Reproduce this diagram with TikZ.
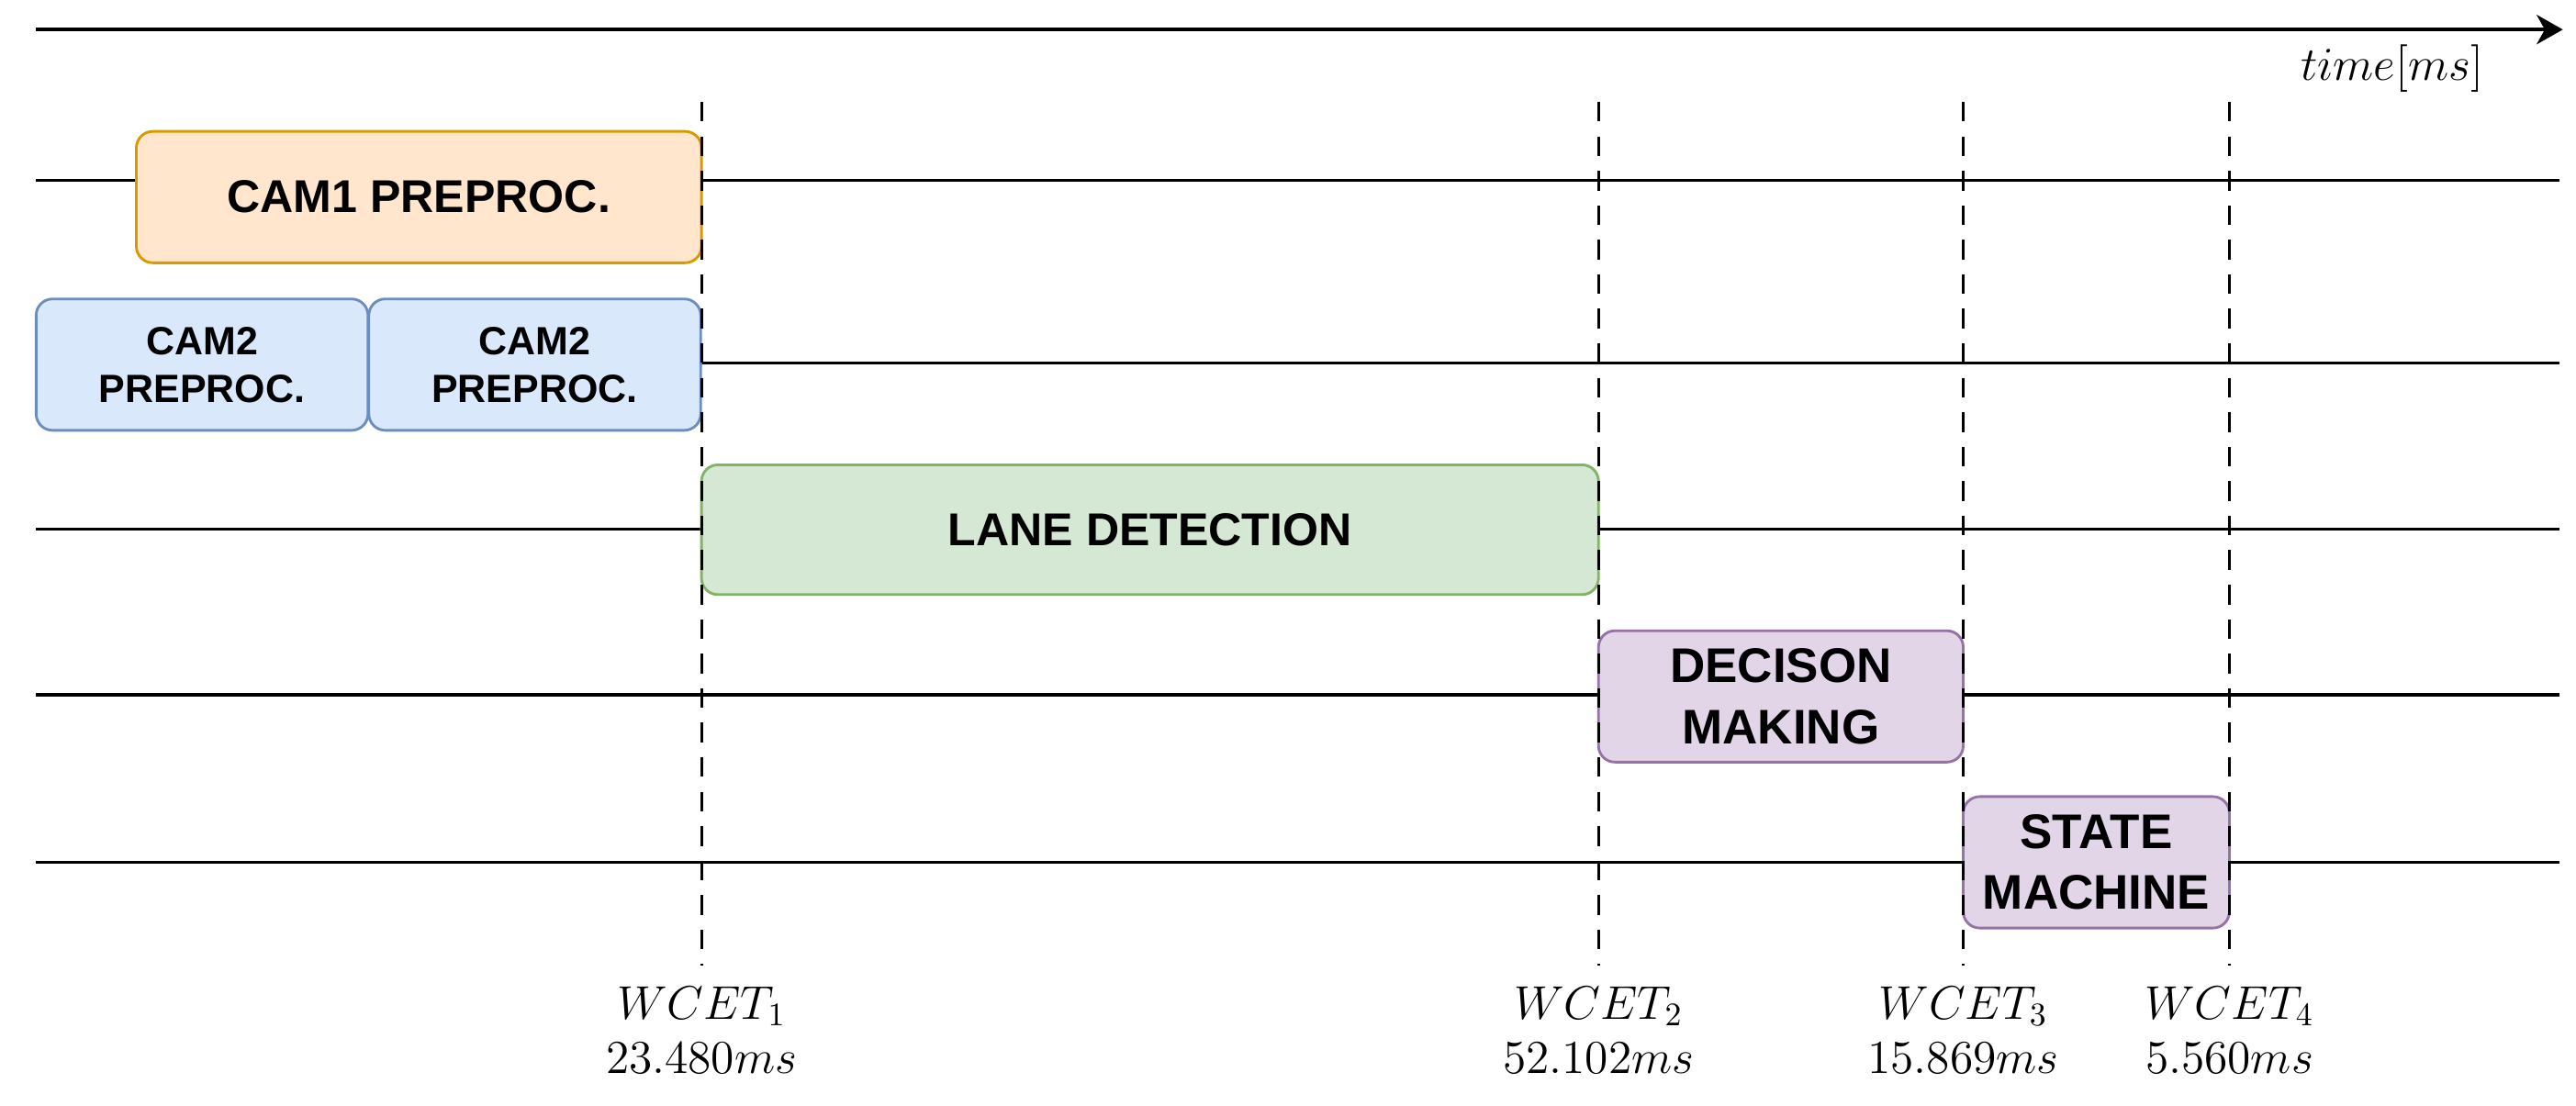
\documentclass[tikz,border=0pt]{standalone}
\usepackage{fontspec}
\newfontfamily\boxfont{Liberation Sans}
\usetikzlibrary{arrows.meta}
\definecolor{orfill}{HTML}{FFE6CC}\definecolor{ordraw}{HTML}{D79B00}
\definecolor{blfill}{HTML}{DAE8FC}\definecolor{bldraw}{HTML}{6C8EBF}
\definecolor{grfill}{HTML}{D5E8D4}\definecolor{grdraw}{HTML}{82B366}
\definecolor{pufill}{HTML}{E1D5E7}\definecolor{pudraw}{HTML}{9673A6}
\begin{document}
\begin{tikzpicture}[x=0.5pt,y=-0.5pt,
  task/.style={draw, line width=0.8pt, rounded corners=5pt, align=center,
    inner sep=0pt, font=\boxfont\bfseries\fontsize{14}{17.5}\selectfont},
  smalltask/.style={task, font=\boxfont\bfseries\fontsize{12}{14.5}\selectfont},
  bigtask/.style={task, font=\boxfont\bfseries\fontsize{14.8}{18.5}\selectfont},
  rowline/.style={line width=0.9pt},
  wcetline/.style={line width=0.8pt, dash pattern=on 6pt off 4.5pt},
  wcetlabel/.style={align=center, inner sep=0pt, font=\fontsize{14}{16.5}\selectfont}]
\useasboundingbox (0,0) rectangle (1568,673);
% time axis
\coordinate (a0) at (22,18); \coordinate (a1) at (1560,18);
\draw[line width=1pt, -{Stealth[length=8pt,width=9pt,inset=2.5pt]}] (a0) -- (a1);
\node[anchor=base east, inner sep=0pt, font=\fontsize{14}{17}\selectfont] (tl) at (1512,49) {$time[ms]$};
% row lines
\foreach \n/\y in {r1/110, r2/221, r3/322, r4/423, r5/525}{
  \coordinate (\n l) at (22,\y); \coordinate (\n r) at (1558,\y);
  \draw[rowline] (\n l) -- (\n r);
}
% tasks
\node[task, fill=orfill, draw=ordraw, minimum width=172pt, minimum height=40pt] (cam1) at (255,120) {CAM1 PREPROC.};
\node[smalltask, fill=blfill, draw=bldraw, minimum width=101pt, minimum height=40pt] (cam2a) at (123,222) {CAM2\\PREPROC.};
\node[smalltask, fill=blfill, draw=bldraw, minimum width=101pt, minimum height=40pt] (cam2b) at (325.5,222) {CAM2\\PREPROC.};
\node[task, fill=grfill, draw=grdraw, minimum width=273pt, minimum height=39.5pt] (lane) at (700,322.5) {LANE DETECTION};
\node[bigtask, fill=pufill, draw=pudraw, minimum width=111pt, minimum height=40pt] (dec) at (1084,424) {DECISON\\MAKING};
\node[bigtask, fill=pufill, draw=pudraw, minimum width=81pt, minimum height=40pt] (sm) at (1276,525) {STATE\\MACHINE};
% WCET markers
\foreach \n/\x in {w1/427, w2/973, w3/1195, w4/1357}{
  \coordinate (\n t) at (\x,62); \coordinate (\n b) at (\x,588);
  \draw[wcetline] (\n t) -- (\n b);
}
\node[wcetlabel] (l1) at (427,627) {$WCET_1$\\$23.480ms$};
\node[wcetlabel] (l2) at (973,627) {$WCET_2$\\$52.102ms$};
\node[wcetlabel] (l3) at (1195,627) {$WCET_3$\\$15.869ms$};
\node[wcetlabel] (l4) at (1357,627) {$WCET_4$\\$5.560ms$};
\end{tikzpicture}
\end{document}
